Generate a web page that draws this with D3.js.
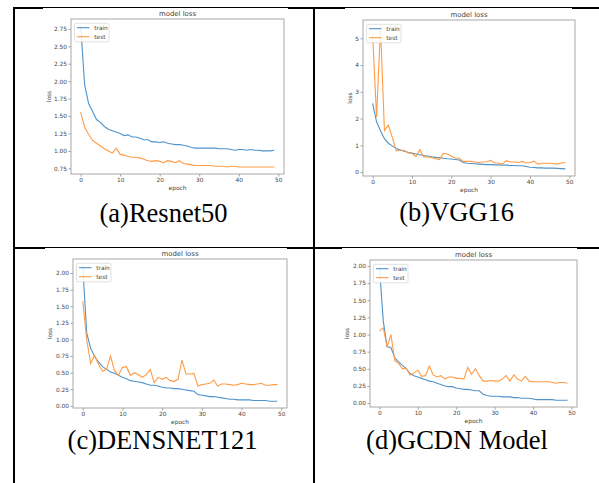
<!DOCTYPE html>
<html>
<head>
<meta charset="utf-8">
<script src="https://cdn.jsdelivr.net/npm/d3@7"></script>
<style>
  body { margin: 0; background: #fff; }
  svg { display: block; }
</style>
</head>
<body>
<div id="fig"></div>
<script>
// loss curves (epochs 0..49)
var epochs = d3.range(50);

var resnetTrain = [2.79,1.95,1.68,1.57,1.45,1.41,1.35,1.31,1.29,1.27,1.25,1.22,1.23,1.20,1.20,1.18,1.16,1.16,1.13,1.13,
  1.12,1.13,1.11,1.10,1.09,1.09,1.08,1.07,1.05,1.04,1.04,1.04,1.04,1.04,1.04,1.03,1.03,1.03,1.02,1.01,
  1.02,1.02,1.01,1.02,1.01,1.01,1.00,1.00,1.00,1.01];
var resnetTest = [1.56,1.34,1.24,1.15,1.11,1.07,1.03,1.00,0.97,1.04,0.95,0.94,0.92,0.91,0.91,0.90,0.88,0.86,0.85,0.86,
  0.85,0.83,0.86,0.85,0.83,0.86,0.82,0.81,0.80,0.79,0.79,0.79,0.79,0.79,0.78,0.78,0.78,0.77,0.78,0.78,
  0.77,0.77,0.77,0.77,0.77,0.77,0.77,0.77,0.77,0.77];

var vggTrain = [2.57,1.88,1.55,1.25,1.08,0.98,0.88,0.83,0.78,0.74,0.71,0.68,0.65,0.62,0.60,0.57,0.55,0.54,0.52,0.50,
  0.49,0.47,0.45,0.36,0.33,0.32,0.31,0.30,0.29,0.28,0.28,0.27,0.27,0.26,0.26,0.25,0.25,0.24,0.24,0.21,
  0.18,0.17,0.16,0.16,0.15,0.15,0.15,0.14,0.13,0.12];
var vggTest = [5.15,2.05,5.42,1.55,1.75,1.30,0.80,0.82,0.82,0.72,0.70,0.58,0.84,0.57,0.57,0.55,0.50,0.47,0.70,0.68,
  0.60,0.53,0.52,0.40,0.40,0.40,0.38,0.36,0.38,0.39,0.44,0.34,0.34,0.30,0.43,0.38,0.38,0.36,0.40,0.35,
  0.35,0.41,0.30,0.33,0.33,0.33,0.32,0.30,0.34,0.36];

var densTrain = [2.11,1.10,0.87,0.74,0.66,0.59,0.55,0.51,0.49,0.46,0.43,0.41,0.38,0.37,0.36,0.35,0.33,0.31,0.31,0.30,
  0.28,0.27,0.27,0.26,0.26,0.25,0.24,0.23,0.22,0.17,0.16,0.15,0.14,0.14,0.13,0.12,0.11,0.10,0.10,0.09,
  0.09,0.09,0.09,0.08,0.08,0.08,0.08,0.07,0.07,0.07];
var densTest = [1.58,1.00,0.64,0.76,0.62,0.52,0.55,0.75,0.53,0.46,0.58,0.59,0.46,0.50,0.47,0.43,0.47,0.55,0.35,0.43,
  0.40,0.43,0.38,0.37,0.40,0.69,0.48,0.48,0.49,0.30,0.32,0.33,0.34,0.39,0.30,0.33,0.33,0.32,0.31,0.32,
  0.34,0.33,0.32,0.32,0.33,0.34,0.31,0.31,0.32,0.32];

var gcdnTrain = [1.99,1.20,0.82,0.81,0.66,0.60,0.55,0.50,0.43,0.40,0.38,0.36,0.34,0.32,0.31,0.29,0.27,0.25,0.24,0.24,
  0.22,0.21,0.20,0.20,0.19,0.18,0.18,0.13,0.11,0.10,0.10,0.10,0.09,0.09,0.09,0.08,0.08,0.07,0.07,0.07,
  0.06,0.05,0.05,0.05,0.05,0.05,0.04,0.04,0.04,0.04];
var gcdnTest = [1.05,1.10,0.82,1.00,0.62,0.58,0.50,0.51,0.41,0.44,0.48,0.39,0.40,0.54,0.41,0.38,0.40,0.35,0.38,0.38,
  0.36,0.36,0.35,0.52,0.42,0.50,0.40,0.32,0.32,0.33,0.32,0.32,0.35,0.40,0.32,0.41,0.35,0.32,0.39,0.32,
  0.31,0.31,0.31,0.31,0.31,0.30,0.29,0.30,0.30,0.29];

// tick labels
var xTicks = [0, 10, 20, 30, 40, 50];
var resnetTicks = [0.75, 1.00, 1.25, 1.50, 1.75, 2.00, 2.25, 2.50, 2.75];
var vggTicks = [0, 1, 2, 3, 4, 5];
var densTicks = [0.00, 0.25, 0.50, 0.75, 1.00, 1.25, 1.50, 1.75, 2.00];
var gcdnTicks = [0.00, 0.25, 0.50, 0.75, 1.00, 1.25, 1.50, 1.75, 2.00];

var captions = ["(a)Resnet50", "(b)VGG16", "(c)DENSNET121", "(d)GCDN Model"];
var seriesNames = ["train", "test"];

var blue = "#4f93cb", orange = "#ff9b45";
var tickFont = "DejaVu Sans";

// layout of each cell: image box, plot box, caption position
var panels = [
  { train: resnetTrain, test: resnetTest, ticks: resnetTicks, fmt: ".2f",
    img: [43, 8, 245, 232], plot: [71, 19, 284, 174], cap: [163.5, 221.5], lossDx: 22.5 },
  { train: vggTrain, test: vggTest, ticks: vggTicks, fmt: "d",
    img: [345, 8, 227, 232], plot: [363, 20, 575, 176], cap: [456.7, 220.5], lossDx: 13 },
  { train: densTrain, test: densTest, ticks: densTicks, fmt: ".2f",
    img: [45, 248, 242, 188], plot: [73, 259, 287, 408], cap: [162.5, 449], lossDx: 23 },
  { train: gcdnTrain, test: gcdnTest, ticks: gcdnTicks, fmt: ".2f",
    img: [342, 248, 235, 188], plot: [370, 260, 577, 407], cap: [457, 449], lossDx: 23.3 }
];

var svg = d3.select("#fig").append("svg")
    .attr("width", 599)
    .attr("height", 483);

// table rules
var rules = svg.append("g").attr("fill", "#000");
rules.append("rect").attr("x", 13).attr("y", 7).attr("width", 586).attr("height", 2);
rules.append("rect").attr("x", 13).attr("y", 247).attr("width", 586).attr("height", 2);
rules.append("rect").attr("x", 13).attr("y", 7).attr("width", 2).attr("height", 476);
rules.append("rect").attr("x", 313).attr("y", 7).attr("width", 2).attr("height", 476);

panels.forEach(function(p, i) {
  var g = svg.append("g");

  // the pasted image sits a little over the rules
  g.append("rect")
    .attr("x", p.img[0]).attr("y", p.img[1])
    .attr("width", p.img[2]).attr("height", p.img[3])
    .attr("fill", "#fff");

  var L = p.plot[0], T = p.plot[1], R = p.plot[2], B = p.plot[3];

  // matplotlib style autoscale with 5% margins
  var all = p.train.concat(p.test);
  var lo = d3.min(all), hi = d3.max(all), pad = (hi - lo) * 0.05;
  var x = d3.scaleLinear().domain([-2.45, 51.45]).range([L, R]);
  var y = d3.scaleLinear().domain([lo - pad, hi + pad]).range([B, T]);

  var clipId = "clip" + i;
  g.append("clipPath").attr("id", clipId)
    .append("rect").attr("x", L).attr("y", T).attr("width", R - L).attr("height", B - T);

  var line = d3.line()
    .x(function(d, j) { return x(epochs[j]); })
    .y(function(d) { return y(d); });

  g.append("path").datum(p.train)
    .attr("d", line).attr("fill", "none")
    .attr("stroke", blue).attr("stroke-width", 1.1)
    .attr("clip-path", "url(#" + clipId + ")");
  g.append("path").datum(p.test)
    .attr("d", line).attr("fill", "none")
    .attr("stroke", orange).attr("stroke-width", 1.1)
    .attr("clip-path", "url(#" + clipId + ")");

  // axes
  var yAxis = d3.axisLeft(y).tickValues(p.ticks).tickFormat(d3.format(p.fmt))
    .tickSize(2.5).tickPadding(1.5);
  var xAxis = d3.axisBottom(x).tickValues(xTicks).tickFormat(d3.format("d"))
    .tickSize(2.5).tickPadding(1.5);

  var ya = g.append("g").attr("transform", "translate(" + L + ",0)").call(yAxis);
  var xa = g.append("g").attr("transform", "translate(0," + B + ")").call(xAxis);
  [ya, xa].forEach(function(a) {
    a.select(".domain").remove();
    a.selectAll("line").attr("stroke", "#777").attr("stroke-width", 0.7);
    a.selectAll("text").attr("fill", "#444")
      .style("font-family", tickFont).style("font-size", "5.8px");
  });

  // frame
  g.append("rect")
    .attr("x", L).attr("y", T).attr("width", R - L).attr("height", B - T)
    .attr("fill", "none").attr("stroke", "#a8a8a8").attr("stroke-width", 1);

  // title and axis labels
  g.append("text")
    .attr("x", (L + R) / 2).attr("y", T - 2.7)
    .attr("text-anchor", "middle")
    .style("font-family", tickFont).style("font-size", "6.9px").attr("fill", "#444")
    .text("model loss");
  g.append("text")
    .attr("x", (L + R) / 2).attr("y", B + 16)
    .attr("text-anchor", "middle")
    .style("font-family", tickFont).style("font-size", "5.9px").attr("fill", "#444")
    .text("epoch");
  g.append("text")
    .attr("transform", "translate(" + (L - p.lossDx) + "," + (T + B) / 2 + ") rotate(-90)")
    .attr("dy", "0.35em")
    .attr("text-anchor", "middle")
    .style("font-family", tickFont).style("font-size", "5.9px").attr("fill", "#444")
    .text("loss");

  // legend
  var lg = g.append("g").attr("transform", "translate(" + (L + 3.5) + "," + (T + 4.3) + ")");
  lg.append("rect")
    .attr("width", 34.5).attr("height", 18.5).attr("rx", 1.5)
    .attr("fill", "#fff").attr("fill-opacity", 0.85)
    .attr("stroke", "#d4d4d4").attr("stroke-width", 0.7);
  seriesNames.forEach(function(name, k) {
    var ry = 4.4 + k * 9;
    lg.append("line")
      .attr("x1", 2.5).attr("x2", 15).attr("y1", ry).attr("y2", ry)
      .attr("stroke", k === 0 ? blue : orange).attr("stroke-width", 1.1);
    lg.append("text")
      .attr("x", 19.8).attr("y", ry).attr("dy", "0.35em")
      .style("font-family", tickFont).style("font-size", "5.8px").attr("fill", "#444")
      .text(name);
  });

  // caption under the image
  svg.append("text")
    .attr("x", p.cap[0]).attr("y", p.cap[1])
    .attr("text-anchor", "middle")
    .style("font-family", "Liberation Serif").style("font-size", "26.5px").attr("fill", "#000")
    .text(captions[i]);
});
</script>
</body>
</html>
